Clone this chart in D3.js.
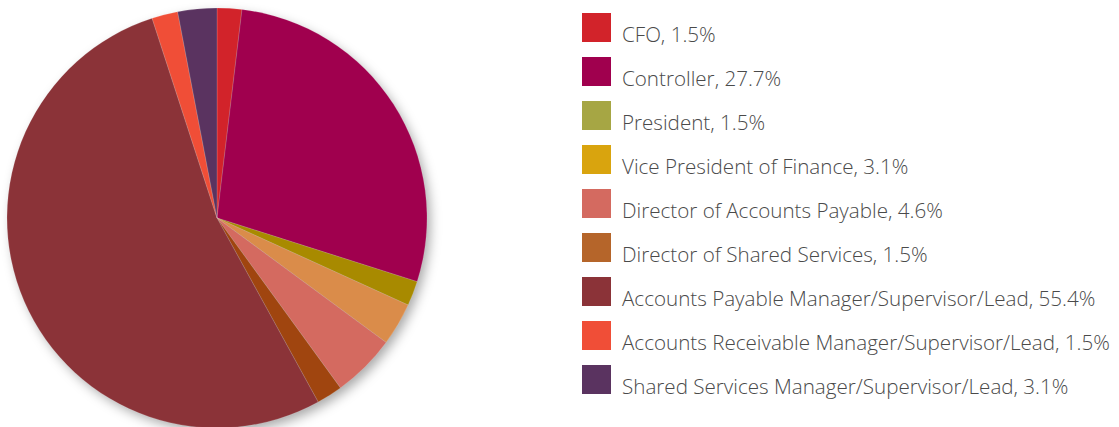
<!DOCTYPE html>
<html><head><meta charset="utf-8">
<script src="https://cdn.jsdelivr.net/npm/d3@7"></script>
<style>body{margin:0;background:#fff}svg{display:block}</style>
</head><body>
<script>
const categories = ["CFO","Controller","President","Vice President of Finance","Director of Accounts Payable","Director of Shared Services","Accounts Payable Manager/Supervisor/Lead","Accounts Receivable Manager/Supervisor/Lead","Shared Services Manager/Supervisor/Lead"];
// percentages shown in the legend
const values = [1.5,27.7,1.5,3.1,4.6,1.5,55.4,1.5,3.1];
// slice shares as drawn in the pie
const sliceShares = [1.9,28.0,1.9,3.3,4.9,2.0,53.0,2.0,3.0];
const pieColors = ["#D2232A","#A0004E","#A88A00","#DA8C4A","#D46A60","#A0450F","#8B3338","#F04E37","#5A3360"];
const legendColors = ["#D2232A","#A0004E","#A6A644","#D9A40E","#D46A60","#B5652A","#8B3338","#F04E37","#5A3360"];

const W=1119,H=427;
const svg=d3.select("body").append("svg").attr("width",W).attr("height",H);
const defs=svg.append("defs");
const f=defs.append("filter").attr("id","sh").attr("x","-20%").attr("y","-20%").attr("width","140%").attr("height","140%");
f.append("feDropShadow").attr("dx",4).attr("dy",5).attr("stdDeviation",6).attr("flood-color","#000").attr("flood-opacity",0.35);

const cx=217,cy=218,r=210;
const pie=d3.pie().sort(null).value(d=>d)(sliceShares);
const arc=d3.arc().innerRadius(0).outerRadius(r);
const g=svg.append("g").attr("transform",`translate(${cx},${cy})`);
g.append("circle").attr("r",r-1).attr("fill","#888").attr("filter","url(#sh)");
g.selectAll("path").data(pie).join("path").attr("d",arc)
 .attr("fill",(d,i)=>pieColors[i]).attr("stroke","#fff").attr("stroke-opacity",0.25).attr("stroke-width",0.6);

const leg=svg.append("g").attr("transform","translate(582,13)");
const rows=leg.selectAll("g").data(categories).join("g").attr("transform",(d,i)=>`translate(0,${i*44})`);
rows.append("rect").attr("width",29).attr("height",29).attr("fill",(d,i)=>legendColors[i]);
rows.append("text").attr("x",40).attr("y",29).attr("font-family","Open Sans").attr("font-weight",300).attr("font-size",20.6)
 .attr("fill","#4a4a4a").text((d,i)=>`${d}, ${values[i]}%`);
</script>
</body></html>
